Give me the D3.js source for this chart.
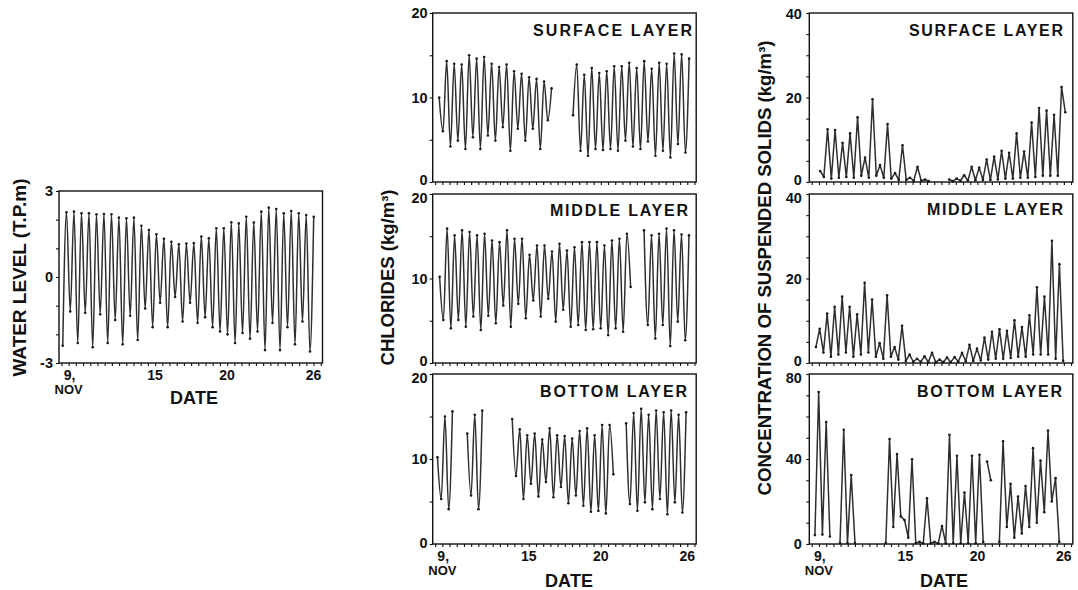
<!DOCTYPE html>
<html><head><meta charset="utf-8">
<script src="https://cdn.jsdelivr.net/npm/d3@7"></script>
<style>
body{margin:0;background:#fff}
svg{display:block}
text{font-family:"Liberation Sans",Arial,Helvetica,sans-serif;font-weight:bold;fill:#111}
</style>
</head><body>
<svg id="c" width="1078" height="590"></svg>
<script>
// ---------------- DATA ----------------
// successive tidal extremes are HALF days apart
const HALF = 0.26;
const dateTicks = [9, 15, 20, 26];
const dateLabels = ["9,", "15", "20", "26"];

// Water level (T.P. m)
const waterLevelStarts = [8.59];
const waterLevelValues = [[-2.4,
  2.26,-1.2, 2.28,-2.3, 2.22,-1.25, 2.22,-2.45, 2.19,-1.3, 2.2,-2.3, 2.19,-1.5, 2.07,-2.35, 2.05,-1.35, 2.07,-2.2,
  1.79,-1.1, 1.64,-1.75, 1.49,-0.9, 1.33,-1.75, 1.23,-0.7, 1.14,-1.55, 1.17,-0.9,
  1.18,-1.6, 1.41,-1.4, 1.35,-1.75, 1.70,-1.9, 1.70,-2.0, 1.91,-2.3, 1.87,-1.95, 2.10,-2.15, 1.90,-1.9,
  2.28,-2.55, 2.42,-1.6, 2.37,-2.55, 2.22,-1.75, 2.30,-2.35, 2.22,-1.55, 2.16,-2.6, 2.10]];

// Chlorides (kg/m3)
const chlSurfaceStarts = [8.78, 18.07];
const chlSurfaceValues = [
  [10, 6.0, 14.3, 4.2, 14.0, 4.9, 13.9, 3.9, 15.0, 5.3, 14.6, 3.9, 14.8, 5.5, 14.0, 4.9, 13.6, 6.5, 13.9, 3.7,
   13.1, 6.3, 12.8, 4.9, 12.4, 6.3, 12.2, 3.9, 11.9, 7.3, 11.1],
  [7.9, 13.9, 3.7, 12.7, 3.1, 13.5, 3.9, 12.9, 3.8, 13.1, 3.9, 13.7, 3.7, 13.7, 4.9, 14.1, 4.2, 13.5, 3.9, 14.3,
   4.8, 13.4, 3.1, 14.1, 3.7, 14.0, 2.9, 15.2, 4.5, 15.1, 3.5, 14.6]
];
const chlMiddleStarts = [8.81, 23.0];
const chlMiddleValues = [
  [10.2, 5.1, 15.9, 4.1, 15.1, 5.1, 15.7, 4.3, 15.5, 5.5, 15.1, 3.9, 15.3, 5.6, 14.5, 4.7, 14.3, 6.8, 15.7, 4.3,
   14.7, 7.0, 14.7, 5.3, 12.8, 7.4, 13.9, 5.5, 13.9, 7.6, 13.2, 4.9, 14.1, 6.3, 13.3, 4.3, 13.7, 4.5, 14.3, 3.9,
   14.3, 4.0, 14.3, 4.1, 13.9, 3.3, 14.5, 4.1, 14.7, 3.7, 15.3, 9.0],
  [15.7, 4.5, 15.1, 2.9, 15.3, 4.5, 15.9, 2.0, 15.7, 4.9, 15.2, 2.7, 15.1]
];
const chlBottomStarts = [8.66, 10.73, 13.85, 21.76];
const chlBottomValues = [
  [10.2, 5.3, 15.0, 4.1, 15.6],
  [13.0, 5.7, 15.2, 4.1, 15.7],
  [14.7, 8.0, 13.5, 5.3, 12.8, 7.1, 13.0, 5.6, 12.3, 7.3, 13.6, 5.5, 12.8, 6.7, 12.7, 4.8, 12.4, 5.7, 13.3, 4.5,
   13.6, 3.8, 12.8, 3.9, 14.0, 3.6, 14.0, 8.2],
  [14.2, 4.7, 15.4, 3.9, 15.9, 4.9, 15.2, 4.1, 15.7, 5.3, 15.5, 3.5, 15.7, 4.9, 15.2, 3.7, 15.5]
];

// Suspended solids (kg/m3)
const ssSurfaceStarts = [9.08, 18.04];
const ssSurfaceValues = [
  [2.6, 1.2, 12.5, 0.8, 12.3, 1.0, 9.3, 1.2, 11.5, 1.0, 15.3, 1.5, 5.8, 1.0, 19.6, 1.5, 4.0, 1.0, 13.7, 0.8,
   2.1, 0.5, 8.7, 0.5, 1.0, 0.3, 3.6, 0.3, 0.6, 0.2],
  [0.6, 0.2, 0.8, 0.3, 1.6, 0.3, 3.6, 0.4, 3.4, 0.5, 5.3, 0.5, 6.0, 0.6, 7.4, 0.8, 6.9, 0.8, 11.5, 1.0,
   7.2, 1.0, 14.1, 1.2, 17.5, 1.5, 16.9, 1.5, 15.9, 1.5, 22.5, 16.5]
];
const ssMiddleStarts = [8.79];
const ssMiddleValues = [
  [3.8, 8.1, 2.5, 11.7, 1.5, 13.3, 2.0, 15.7, 2.5, 13.3, 1.5, 11.5, 2.0, 19.0, 2.5, 15.0, 1.5, 4.7, 1.0, 16.0,
   1.5, 3.8, 0.8, 8.8, 0.5, 2.0, 0.3, 1.0, 0.3, 1.6, 0.2, 2.4, 0.2, 0.8, 0.2, 1.3, 0.2, 1.4, 0.3, 2.4,
   0.4, 4.3, 0.5, 3.4, 0.6, 6.0, 0.8, 7.4, 1.0, 8.0, 1.0, 7.6, 1.2, 10.1, 1.5, 8.5, 1.5, 11.3, 2.0, 17.9,
   2.0, 15.7, 2.0, 28.9, 1.0, 23.4, 0.5]
];
const ssBottomStarts = [8.72, 10.46, 13.64, 20.67, 21.52];
const ssBottomValues = [
  [4.2, 71.5, 4.5, 57.4, 3.5],
  [0.5, 53.8, 0.5, 32.5, 0.5],
  [0.5, 49.4, 8.0, 42.3, 13.0, 11.3, 3.0, 39.9, 0.5, 1.0, 0.3, 21.5, 0.3, 1.0, 0.3, 8.5, 0.3, 51.4, 0.5, 41.5,
   0.5, 24.2, 0.5, 41.5, 0.5, 42.0, 1.0],
  [38.8, 30.0],
  [1.0, 48.3, 8.0, 28.3, 3.0, 22.3, 5.0, 27.3, 8.0, 45.1, 10.0, 39.3, 15.0, 53.4, 20.0, 31.0, 1.0]
];

// ---------------- LAYOUT ----------------
const svg = d3.select("#c");
const X_DOMAIN = [8.33, 26.62];
const PW = 263.5;
const INK = "#111";
const halfDayTicks = d3.range(8.5, 26.51, 0.5);

function drawPanel(o) {
  const x = d3.scaleLinear().domain(X_DOMAIN).range([o.x0, o.x0 + PW]);
  const y = d3.scaleLinear().domain(o.yDomain).range([o.yb, o.yt]);
  const g = svg.append("g");

  const line = d3.line().x(d => x(d.t)).y(d => y(d.v)).curve(o.curve);
  o.starts.forEach((s, i) => {
    const pts = o.values[i].map((v, k) => ({t: s + k * HALF, v}));
    g.append("path").attr("d", line(pts)).attr("fill", "none")
      .attr("stroke", "#2e2e2e").attr("stroke-width", 1.5).attr("stroke-linejoin", "round");
    g.selectAll(null).data(pts).join("circle")
      .attr("cx", d => x(d.t)).attr("cy", d => y(d.v)).attr("r", 1.3).attr("fill", "#1a1a1a");
  });

  // frame
  g.append("rect").attr("x", o.x0).attr("y", o.yt).attr("width", PW).attr("height", o.yb - o.yt)
    .attr("fill", "none").attr("stroke", INK).attr("stroke-width", 1.4);

  // x ticks (every half day)
  const xa = g.append("g").attr("transform", `translate(0,${o.yb})`)
    .call(d3.axisBottom(x).tickValues(halfDayTicks).tickSize(3).tickFormat(""));
  xa.select(".domain").remove();
  xa.selectAll("line").attr("stroke", INK).attr("stroke-width", 1.1);

  // y ticks
  const ya = g.append("g").attr("transform", `translate(${o.x0},0)`)
    .call(d3.axisLeft(y).tickValues(o.yMinor).tickSize(3).tickFormat(""));
  ya.select(".domain").remove();
  ya.selectAll("line").attr("stroke", INK).attr("stroke-width", 1.1);

  // y labels (top, middle, bottom) with small vertical nudges
  g.selectAll(null).data(o.yMajor).join("text")
    .attr("x", o.x0 - o.yLabGap).attr("y", (d, i) => y(d) + o.yNudge[i]).attr("dy", "0.36em")
    .attr("text-anchor", "end").attr("font-size", 14.5).text(d => d);

  // layer title
  if (o.title) {
    g.append("text").attr("x", o.title[1]).attr("y", o.title[2]).attr("font-size", 16)
      .attr("textLength", o.title[3]).attr("lengthAdjust", "spacing").text(o.title[0]);
  }

  // date labels
  if (o.dates) {
    dateTicks.forEach((d, i) => {
      const t = g.append("text").attr("y", o.yb + 17).attr("font-size", 14).text(dateLabels[i]);
      if (i === 0) t.attr("x", x(d) - 5).attr("text-anchor", "start");
      else t.attr("x", x(d)).attr("text-anchor", "middle");
    });
    g.append("text").attr("x", x(9)).attr("y", o.yb + 31).attr("text-anchor", "middle")
      .attr("font-size", 13).text("NOV");
    g.append("text").attr("x", o.dateX).attr("y", o.yb + o.dateDy).attr("text-anchor", "middle")
      .attr("font-size", 18).attr("textLength", 48).attr("lengthAdjust", "spacing").text("DATE");
  }
}

const linearC = d3.curveLinear, smoothC = d3.curveMonotoneX;

// Left: water level
drawPanel({x0: 59, yt: 191, yb: 363, yDomain: [-3, 3], yMinor: [-3, -2, -1, 0, 1, 2, 3], yMajor: [3, 0, -3],
  yNudge: [0, 0, 0], yLabGap: 6, starts: waterLevelStarts, values: waterLevelValues, curve: smoothC,
  dates: true, dateX: 194, dateDy: 41});

// Middle: chlorides
const rows = [[13, 182], [194, 363], [374, 544]];
drawPanel({x0: 432.7, yt: rows[0][0], yb: rows[0][1], yDomain: [0, 20], yMinor: [0, 5, 10, 15, 20], yMajor: [20, 10, 0],
  yNudge: [0, 0, -2.5], yLabGap: 5, starts: chlSurfaceStarts, values: chlSurfaceValues, curve: smoothC,
  title: ["SURFACE LAYER", 533, 36, 159]});
drawPanel({x0: 432.7, yt: rows[1][0], yb: rows[1][1], yDomain: [0, 20], yMinor: [0, 5, 10, 15, 20], yMajor: [20, 10, 0],
  yNudge: [3.5, 0, -2.5], yLabGap: 5, starts: chlMiddleStarts, values: chlMiddleValues, curve: smoothC,
  title: ["MIDDLE LAYER", 550, 216, 138]});
drawPanel({x0: 432.7, yt: rows[2][0], yb: rows[2][1], yDomain: [0, 20], yMinor: [0, 5, 10, 15, 20], yMajor: [20, 10, 0],
  yNudge: [3.5, 0, -1.5], yLabGap: 5, starts: chlBottomStarts, values: chlBottomValues, curve: smoothC,
  title: ["BOTTOM LAYER", 540, 397, 147], dates: true, dateX: 569, dateDy: 43});

// Right: suspended solids
drawPanel({x0: 809.3, yt: rows[0][0], yb: rows[0][1], yDomain: [0, 40], yMinor: d3.range(0, 41, 5), yMajor: [40, 20, 0],
  yNudge: [0.5, 0, -2.5], yLabGap: 7.5, starts: ssSurfaceStarts, values: ssSurfaceValues, curve: linearC,
  title: ["SURFACE LAYER", 909, 36, 154]});
drawPanel({x0: 809.3, yt: rows[1][0], yb: rows[1][1], yDomain: [0, 40], yMinor: d3.range(0, 41, 5), yMajor: [40, 20, 0],
  yNudge: [3.5, 0, -2.5], yLabGap: 7.5, starts: ssMiddleStarts, values: ssMiddleValues, curve: linearC,
  title: ["MIDDLE LAYER", 927, 215, 136]});
drawPanel({x0: 809.3, yt: rows[2][0], yb: rows[2][1], yDomain: [0, 80], yMinor: d3.range(0, 81, 10), yMajor: [80, 40, 0],
  yNudge: [3.5, 0, 0], yLabGap: 7.5, starts: ssBottomStarts, values: ssBottomValues, curve: linearC,
  title: ["BOTTOM LAYER", 917, 397, 145], dates: true, dateX: 944, dateDy: 43});

// Axis titles (rotated)
function yTitle(cx, cy, len, txt) {
  svg.append("text").attr("transform", `translate(${cx},${cy}) rotate(-90)`)
    .attr("text-anchor", "middle").attr("dy", "0.36em").attr("font-size", 18)
    .attr("textLength", len).attr("lengthAdjust", "spacingAndGlyphs").text(txt);
}
yTitle(20, 277.5, 198, "WATER LEVEL (T.P.m)");
yTitle(388, 277.5, 176, "CHLORIDES (kg/m³)");
yTitle(765, 268, 455, "CONCENTRATION OF SUSPENDED SOLIDS (kg/m³)");
</script>
</body></html>
